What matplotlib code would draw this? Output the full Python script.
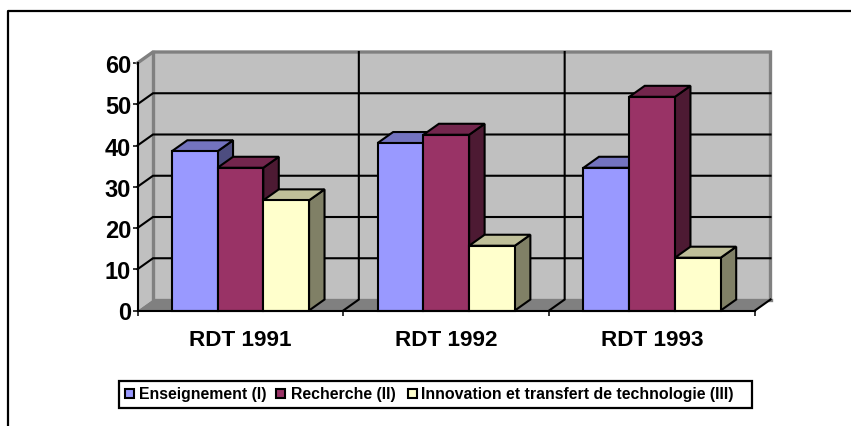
import matplotlib
matplotlib.use("Agg")
import matplotlib.pyplot as plt
from matplotlib.patches import Polygon, Rectangle

plt.rcParams['font.family'] = ['Liberation Sans', 'DejaVu Sans']

categories = ["RDT 1991", "RDT 1992", "RDT 1993"]
series_names = ["Enseignement (I)", "Recherche (II)", "Innovation et transfert de technologie (III)"]
enseignement = [38.6, 40.6, 34.6]
recherche = [34.6, 42.6, 51.8]
innovation = [26.7, 15.7, 12.8]
y_ticks = [0, 10, 20, 30, 40, 50, 60]

front = ["#9999ff", "#993366", "#ffffcc"]
top = ["#7373bf", "#73264d", "#bfbf99"]
side = ["#4d4d80", "#4d1a33", "#808066"]
W, H = 851, 427
L, R, T, B = 137.5, 755.0, 64.0, 311.5

fig = plt.figure(figsize=(W / 100, H / 100), dpi=100)
bg = fig.add_axes([0, 0, 1, 1], zorder=0)
bg.set_xlim(0, W); bg.set_ylim(H, 0); bg.axis("off")
ax = fig.add_axes([L / W, 1 - B / H, (R - L) / W, (B - T) / H], zorder=1)
ax.set_xlim(0, len(categories)); ax.set_ylim(0, 60)
ax.patch.set_visible(False)
for s in ax.spines.values():
    s.set_visible(False)

DX = 15.5 / ((R - L) / 3)
DY = 11.0 / ((B - T) / 60)
LW = 1.5
n = len(categories)

# outer frame: top and left only, both run off the picture
bg.plot([8, 8, W + 5], [H + 5, 11.5, 11.5], color="black", lw=1.6, clip_on=False)

# walls
ax.add_patch(Polygon([(0, 0), (DX, DY), (DX, 60 + DY), (0, 60)], fc="#c0c0c0", ec="none", zorder=1, clip_on=False))
ax.add_patch(Polygon([(DX, DY), (n + DX, DY), (n + DX, 60 + DY), (DX, 60 + DY)], fc="#c0c0c0", ec="none", zorder=1, clip_on=False))
ax.add_patch(Polygon([(0, 0), (n, 0), (n + DX, DY), (DX, DY)], fc="#808080", ec="none", zorder=1, clip_on=False))

# gridlines
ax.plot([0, DX, n + DX, n + DX], [60, 60 + DY, 60 + DY, DY], color="#808080", lw=2.4, zorder=2, solid_joinstyle="miter", clip_on=False)
ax.plot([DX, DX, n + DX], [60 + DY, DY, DY], color="#808080", lw=2.4, zorder=2, solid_joinstyle="miter", clip_on=False)
for v in y_ticks[1:-1]:
    ax.plot([0, DX, n + DX], [v, v + DY, v + DY], color="black", lw=LW, zorder=2, solid_joinstyle="miter", clip_on=False)
for c in range(1, n):
    ax.plot([c, c + DX, c + DX], [0, DY, 60 + DY], color="black", lw=LW, zorder=2, solid_joinstyle="miter", clip_on=False)
ax.plot([n, n + DX], [0, DY], color="black", lw=LW, zorder=2, clip_on=False)

# bars
bw = 1 / 4.5
for i, vals in enumerate([enseignement, recherche, innovation]):
    for c, v in enumerate(vals):
        x0 = c + 0.5 - 1.5 * bw + i * bw
        x1 = x0 + bw
        z = 3 + 10 * c + i
        kw = dict(ec="black", lw=LW, joinstyle="miter", zorder=z, clip_on=False)
        ax.add_patch(Polygon([(x1, 0), (x1 + DX, DY), (x1 + DX, v + DY), (x1, v)], fc=side[i], **kw))
        ax.add_patch(Polygon([(x0, v), (x1, v), (x1 + DX, v + DY), (x0 + DX, v + DY)], fc=top[i], **kw))
        ax.add_patch(Rectangle((x0, 0), bw, v, fc=front[i], **kw))

# axes
ax.plot([0, n], [0, 0], color="black", lw=LW, zorder=60, clip_on=False)
ax.plot([0, 0], [0, 60], color="black", lw=LW, zorder=60, clip_on=False)
ax.set_xticks(range(n + 1)); ax.set_xticklabels([])
ax.set_yticks(y_ticks)
ax.tick_params(axis="x", length=3.6, width=1.1, color="black")
ax.tick_params(axis="y", length=3.6, width=1.1, color="black", pad=1.0, labelsize=17)
for t in ax.get_yticklabels():
    t.set_fontweight("bold")
ax.set_xticks([c + 0.5 for c in range(n)], minor=True)
ax.set_xticklabels(categories, minor=True, fontsize=16.2, fontweight="bold")
ax.tick_params(axis="x", which="minor", length=0, pad=13)

# legend
bg.add_patch(Rectangle((118.5, 381.5), 633, 27, fc="white", ec="black", lw=1.6))
for hx, tx, c, name in zip([125, 276, 408], [139, 291, 421], front, series_names):
    bg.add_patch(Rectangle((hx, 390), 8.5, 8.5, fc=c, ec="black", lw=1.5))
    bg.text(tx, 395, name, fontsize=11.4, fontweight="bold", va="center", ha="left", color="black")

fig.savefig("out.png", dpi=100, facecolor="white")
